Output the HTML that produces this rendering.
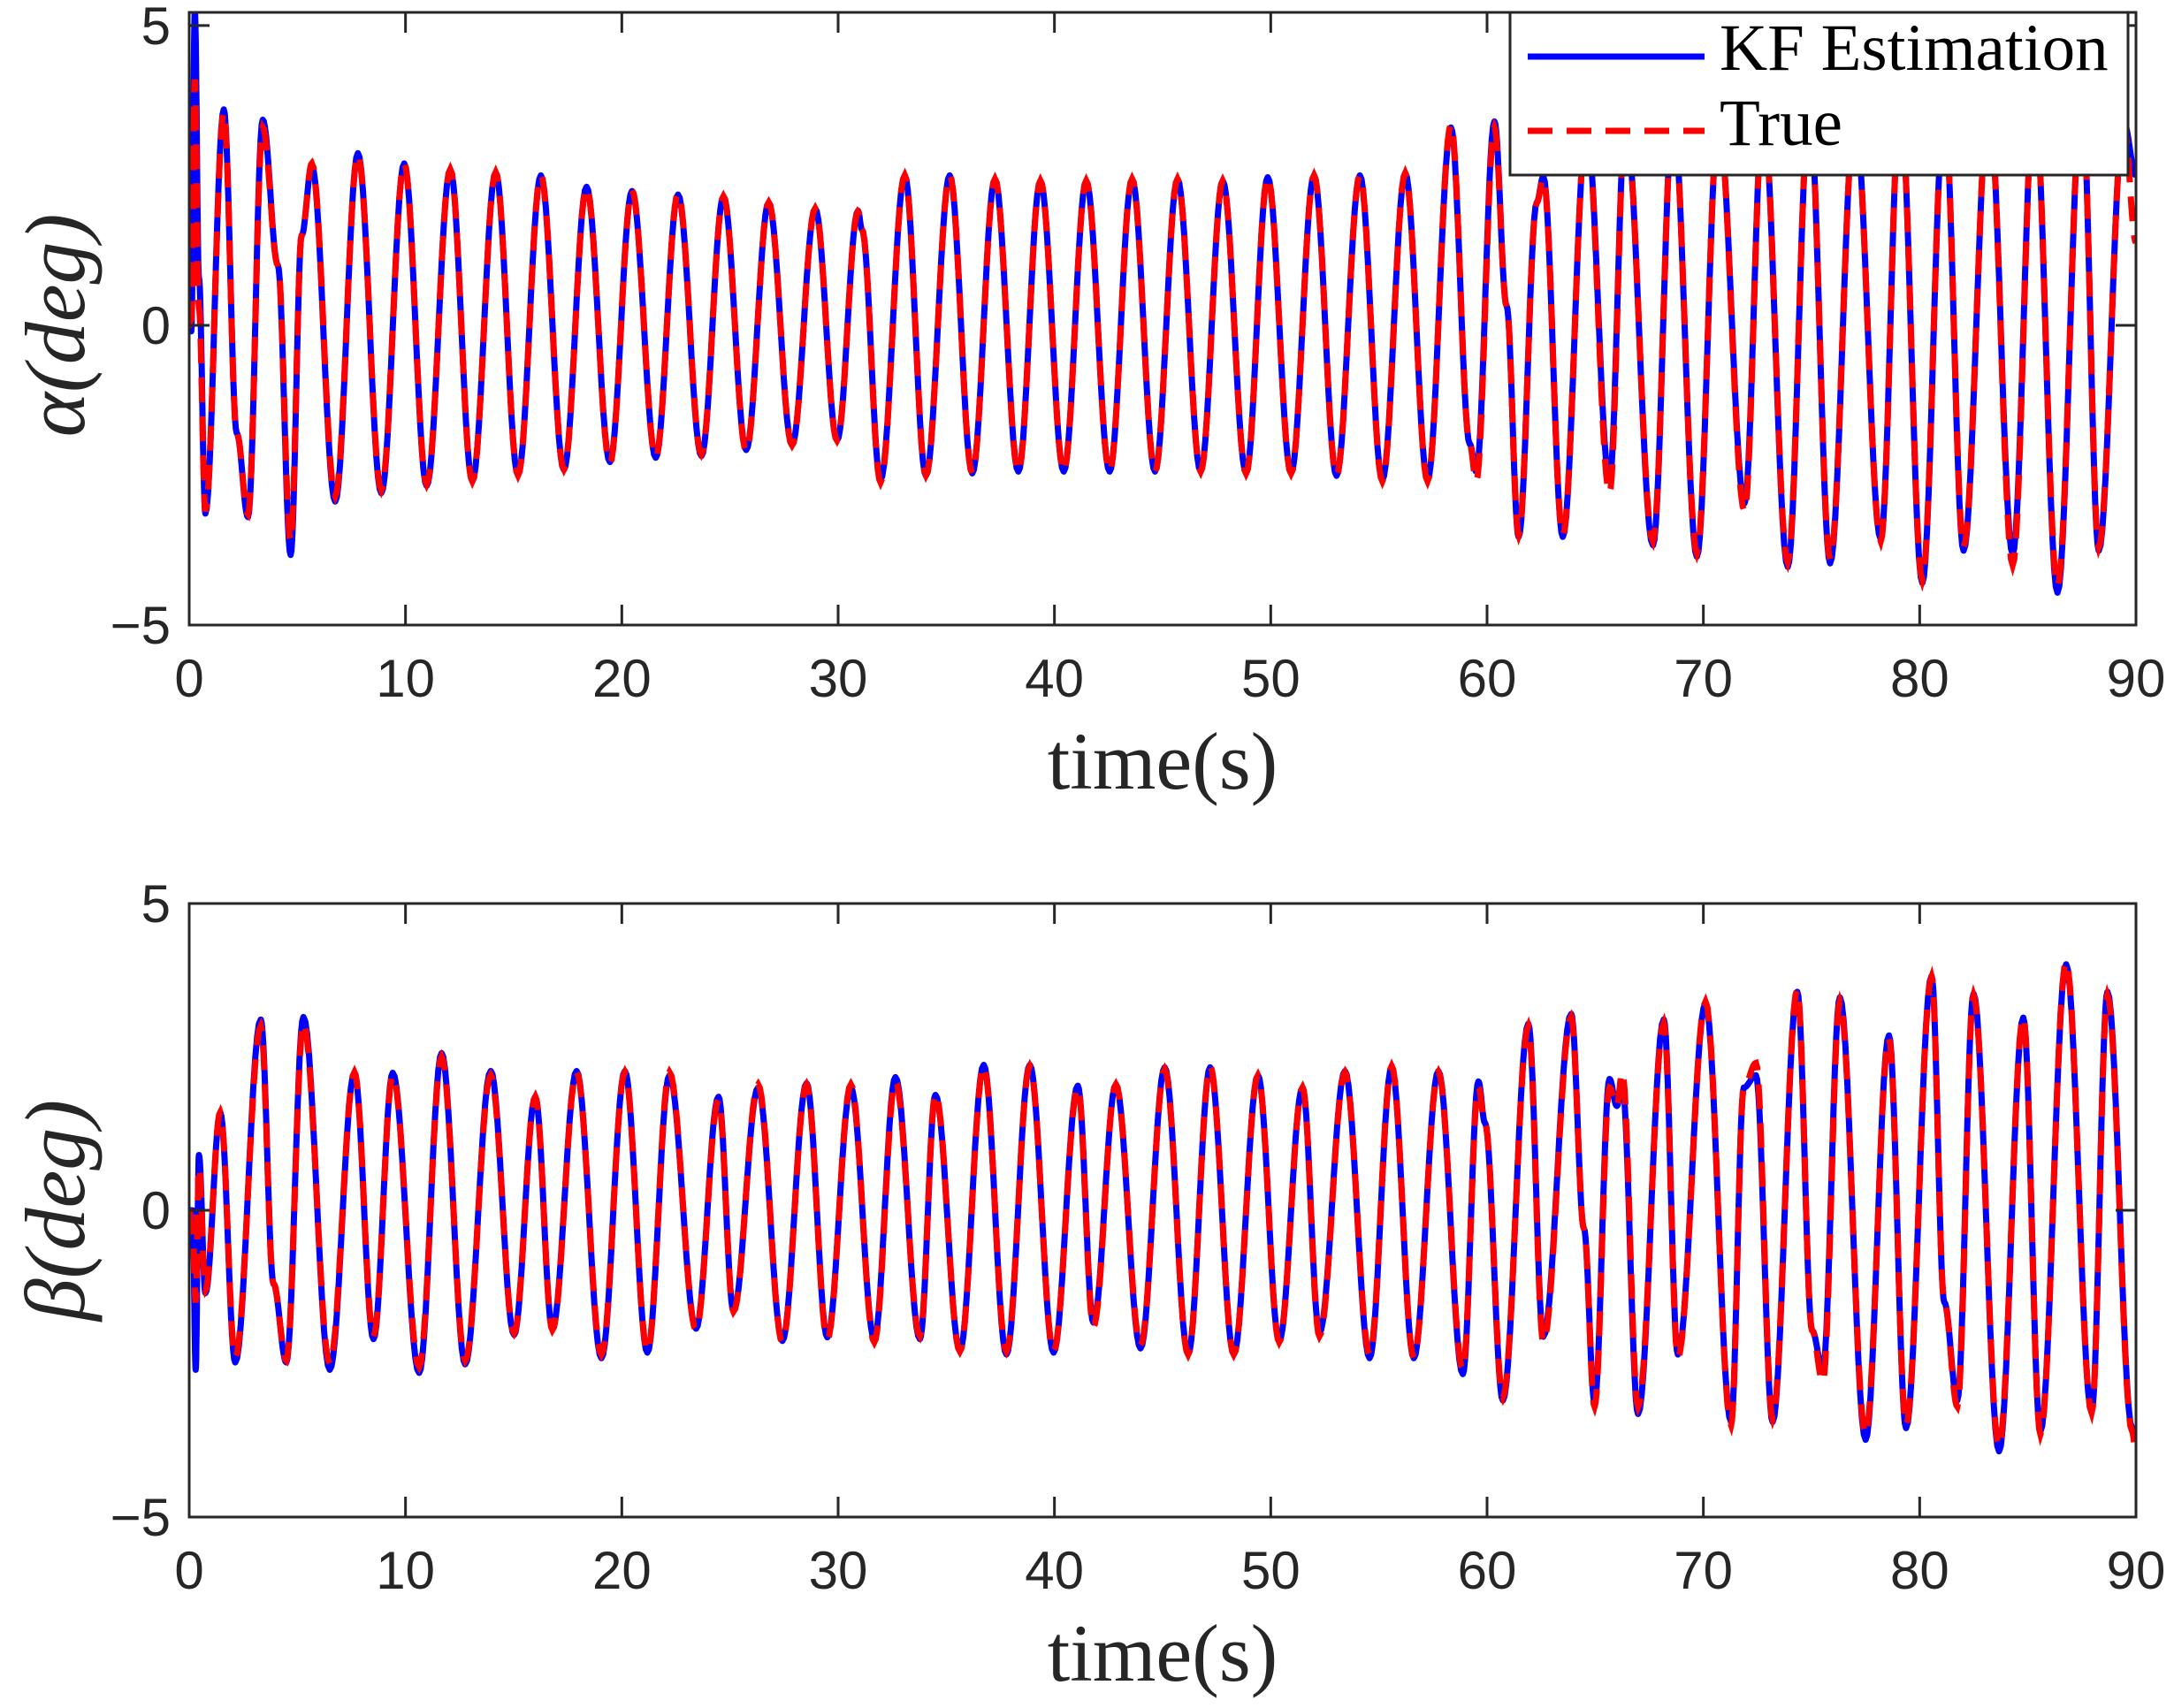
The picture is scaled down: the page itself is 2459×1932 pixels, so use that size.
<!DOCTYPE html>
<html><head><meta charset="utf-8"><style>
html,body{margin:0;padding:0;background:#fff}
svg{display:block}
</style></head><body>
<svg id="fig" width="2459" height="1932" viewBox="0 0 2459 1932" xmlns="http://www.w3.org/2000/svg">
<defs>
<clipPath id="clipA"><rect x="214" y="14" width="2202" height="693"/></clipPath>
<clipPath id="clipB"><rect x="214" y="1022" width="2202" height="694"/></clipPath>
</defs>
<rect x="0" y="0" width="2459" height="1932" fill="#fff"/>
<g id="plotA"></g>
<g id="plotB"></g>
</svg>
<script>
// ---- data: alpha (extrema times and values) ----
const alphaT=[0,0.1,0.26,0.45,0.75,1.6,2.2,2.72,3.4,4.1,4.69,5.2,5.67,6.75,7.8,8.88,9.94,10.98,12.07,13.09,14.17,15.2,16.26,17.32,18.37,19.45,20.47,21.57,22.6,23.68,24.7,25.75,26.79,27.87,28.94,29.95,30.92,31.1,31.96,33.08,34.06,35.16,36.2,37.25,38.33,39.35,40.43,41.47,42.55,43.59,44.65,45.69,46.76,47.78,48.86,49.86,50.94,52.0,53.04,54.12,55.16,56.22,57.25,58.33,59.2,59.5,60.34,60.9,61.46,62.3,62.6,63.5,64.6,65.66,66.4,67.67,68.6,69.7,70.7,71.9,72.76,73.9,74.9,75.86,77.0,78.2,79.1,80.12,81.14,82.03,83.2,84.3,85.3,86.37,87.5,88.28,89.43,90];
const alphaEst=[0,-0.1,5.25,0.8,-3.14,3.6,-1.8,-3.2,3.43,1.0,-3.83,1.5,2.67,-2.94,2.87,-2.8,2.7,-2.68,2.6,-2.6,2.55,-2.5,2.5,-2.41,2.31,-2.28,2.24,-2.21,2.18,-2.18,2.15,-2.08,2.05,-2.0,1.95,-1.92,1.91,1.6,-2.58,2.5,-2.51,2.5,-2.47,2.44,-2.44,2.41,-2.44,2.41,-2.44,2.44,-2.44,2.44,-2.44,2.41,-2.47,2.47,-2.47,2.5,-2.51,2.5,-2.58,2.54,-2.58,3.3,-1.98,-2.44,3.4,0.33,-3.53,2.05,2.48,-3.53,3.3,-2.58,3.4,-3.67,3.5,-3.86,3.4,-2.97,3.5,-4.03,3.6,-3.97,3.5,-3.57,3.7,-4.3,3.6,-3.76,3.7,-3.82,3.8,-4.46,3.8,-3.76,3.4,2.5];
const alphaTrue=[0,0.1,4.1,0.3,-3.1,3.55,-1.8,-3.15,3.3,1.0,-3.6,1.5,2.7,-2.85,2.85,-2.75,2.7,-2.65,2.6,-2.6,2.55,-2.5,2.5,-2.4,2.3,-2.3,2.25,-2.2,2.2,-2.15,2.15,-2.1,2.05,-2.0,1.95,-1.92,1.9,1.6,-2.62,2.5,-2.5,2.5,-2.47,2.44,-2.44,2.41,-2.44,2.41,-2.44,2.44,-2.44,2.44,-2.44,2.41,-2.47,2.47,-2.47,2.5,-2.51,2.5,-2.6,2.54,-2.6,3.35,-1.98,-2.6,3.3,0.33,-3.5,2.05,2.45,-3.5,3.3,-2.8,3.4,-3.6,3.5,-3.8,3.4,-3.1,3.5,-3.95,3.6,-3.9,3.5,-3.6,3.7,-4.25,3.6,-3.7,3.7,-4.0,3.8,-4.35,3.8,-3.7,3.4,1.38];
// ---- data: beta ----
const betaT=[0,0.16,0.3,0.45,0.75,1.44,2.13,3.31,3.9,4.49,5.28,6.5,7.64,8.52,9.41,10.63,11.67,12.76,13.94,15.02,16.0,16.79,17.91,19.06,20.14,21.18,22.2,23.43,24.47,25.16,26.3,27.42,28.54,29.5,30.59,31.67,32.65,33.78,34.5,35.63,36.73,37.78,38.86,39.96,41.08,41.8,42.84,43.98,45.1,46.18,47.2,48.29,49.41,50.39,51.47,52.25,53.43,54.57,55.59,56.61,57.75,58.88,59.6,59.9,60.73,61.91,62.6,63.89,64.48,64.97,65.66,66.0,66.25,66.98,68.17,68.82,70.1,71.28,71.87,72.43,73.2,74.34,75.03,75.52,76.31,77.5,78.58,79.37,80.55,81.14,81.74,82.49,83.67,84.79,85.58,86.77,87.95,88.68,89.82,90];
const betaEst=[0,0,-2.6,0.9,-1.35,1.59,-2.48,3.11,-1.2,-2.48,3.15,-2.6,2.24,-2.1,2.24,-2.65,2.56,-2.51,2.27,-2.03,1.85,-1.93,2.27,-2.41,2.27,-2.32,2.2,-1.93,1.85,-1.64,2.0,-2.13,2.07,-2.07,2.0,-2.1,2.17,-2.1,1.88,-2.29,2.37,-2.35,2.37,-2.32,2.03,-1.83,2.05,-2.25,2.33,-2.35,2.33,-2.35,2.2,-2.13,2.0,-2.0,2.27,-2.41,2.33,-2.41,2.27,-2.67,2.1,1.43,-3.1,3.04,-2.06,3.2,-0.3,-3.13,2.14,1.7,2.04,-3.32,3.11,-2.35,3.37,-3.45,2.0,2.2,-3.45,3.56,-1.96,-2.6,3.47,-3.74,2.85,-3.55,3.82,-1.5,-3.1,3.53,-3.93,3.14,-3.61,4.01,-3.29,3.56,-3.55,-3.6];
const betaTrue=[0,-0.3,-1.5,0.7,-1.3,1.6,-2.4,3.0,-1.2,-2.45,3.05,-2.5,2.25,-2.05,2.2,-2.55,2.5,-2.45,2.2,-2.0,1.85,-1.95,2.25,-2.35,2.25,-2.3,2.25,-1.95,1.8,-1.65,2.05,-2.15,2.05,-2.1,2.05,-2.15,2.1,-2.05,1.9,-2.3,2.35,-2.3,2.35,-2.3,2.0,-1.9,2.05,-2.2,2.3,-2.35,2.35,-2.35,2.2,-2.15,2.0,-2.05,2.25,-2.35,2.35,-2.4,2.25,-2.6,2.0,1.43,-3.05,3.0,-2.15,3.15,-0.3,-3.2,2.0,1.7,2.25,-3.2,3.05,-2.4,3.4,-3.5,2.0,2.4,-3.4,3.6,-1.96,-2.8,3.4,-3.65,2.8,-3.5,3.8,-1.5,-3.2,3.5,-3.85,3.15,-3.65,4.05,-3.3,3.5,-3.6,-4.0];
const xTicks=[0,10,20,30,40,50,60,70,80,90];
const yTicks=[-5,0,5];
const yTickLabels=['\u22125','0','5'];

const NS='http://www.w3.org/2000/svg';
function mk(parent,tag,attrs){const e=document.createElementNS(NS,tag);for(const k in attrs)e.setAttribute(k,attrs[k]);parent.appendChild(e);return e;}

function drawPlot(g,box,ymin,ymax,T,est,tru,label,clipId,legend){
  const X=t=>box.l+(t-0)/(90-0)*(box.r-box.l);
  const Y=v=>box.b-(v-ymin)/(ymax-ymin)*(box.b-box.t);
  function pathFor(vals){
    let d='M'+X(T[0]).toFixed(1)+','+Y(vals[0]).toFixed(1);
    for(let i=0;i<T.length-1;i++){
      const n=14;
      for(let k=1;k<=n;k++){
        const f=k/n,w=(1-Math.cos(Math.PI*f))/2;
        const t=T[i]+(T[i+1]-T[i])*f,v=vals[i]+(vals[i+1]-vals[i])*w;
        d+='L'+X(t).toFixed(1)+','+Y(v).toFixed(1);
      }
    }
    return d;
  }
  const lines=mk(g,'g',{'clip-path':'url(#'+clipId+')'});
  
  
  const pe=mk(lines,'path',{d:pathFor(est),fill:'none',stroke:'#0000ff','stroke-width':7,'stroke-linejoin':'round'});
  
  
  const pt=mk(lines,'path',{d:pathFor(tru),fill:'none',stroke:'#ff0000','stroke-width':7,'stroke-dasharray':'28 16'});
  
  
  const fr=mk(g,'rect',{x:box.l,y:box.t,width:box.r-box.l,height:box.b-box.t,fill:'none',stroke:'#262626','stroke-width':3});
  
  
  xTicks.forEach(t=>{
    const x=X(t);
    mk(g,'line',{x1:x,y1:box.b,x2:x,y2:box.b-23,stroke:'#262626','stroke-width':3});
    mk(g,'line',{x1:x,y1:box.t,x2:x,y2:box.t+23,stroke:'#262626','stroke-width':3});
    const tx=mk(g,'text',{x:x,y:box.b+81,'text-anchor':'middle','font-family':'Liberation Sans, sans-serif','font-size':60,fill:'#262626'});
    tx.textContent=String(t);
    
    
  });
  yTicks.forEach((v,i)=>{
    const y=Y(v);
    mk(g,'line',{x1:box.l,y1:y,x2:box.l+23,y2:y,stroke:'#262626','stroke-width':3});
    mk(g,'line',{x1:box.r,y1:y,x2:box.r-23,y2:y,stroke:'#262626','stroke-width':3});
    const ty=mk(g,'text',{x:193,y:y+21,'text-anchor':'end','font-family':'Liberation Sans, sans-serif','font-size':60,fill:'#262626'});
    ty.textContent=yTickLabels[i];
    
    
  });
  const xl=mk(g,'text',{x:(box.l+box.r)/2,y:box.b+185,'text-anchor':'middle','font-family':'Liberation Serif, serif','font-size':92,fill:'#262626'});
  xl.textContent='time(s)';
  
  
  const yc=Y(0);
  const yl=mk(g,'text',{x:0,y:0,transform:'translate(95,'+yc+') rotate(-90)','text-anchor':'middle','font-family':'Liberation Serif, serif','font-style':'italic','font-size':96,fill:'#262626'});
  yl.textContent=label;
  
  
  if(legend){
    const lg=mk(g,'g',{});
    
    
    mk(lg,'rect',{x:1708,y:14,width:699,height:184,fill:'#fff',stroke:'#262626','stroke-width':3});
    const l1=mk(lg,'line',{x1:1728,y1:64,x2:1928,y2:64,stroke:'#0000ff','stroke-width':7});
    
    
    const l2=mk(lg,'line',{x1:1728,y1:148,x2:1928,y2:148,stroke:'#ff0000','stroke-width':7,'stroke-dasharray':'28 16'});
    
    
    const t1=mk(lg,'text',{x:1945,y:79,'font-family':'Liberation Serif, serif','font-size':75,fill:'#000'});
    t1.textContent='KF Estimation';
    
    
    const t2=mk(lg,'text',{x:1945,y:164,'font-family':'Liberation Serif, serif','font-size':75,fill:'#000'});
    t2.textContent='True';
    
    
  }
}
drawPlot(document.getElementById('plotA'),{l:214,r:2416,t:14,b:707},-5,5.22,alphaT,alphaEst,alphaTrue,'\u03B1(deg)','clipA',true);
drawPlot(document.getElementById('plotB'),{l:214,r:2416,t:1022,b:1716},-5,5,betaT,betaEst,betaTrue,'\u03B2(deg)','clipB',false);
</script>
</body></html>
